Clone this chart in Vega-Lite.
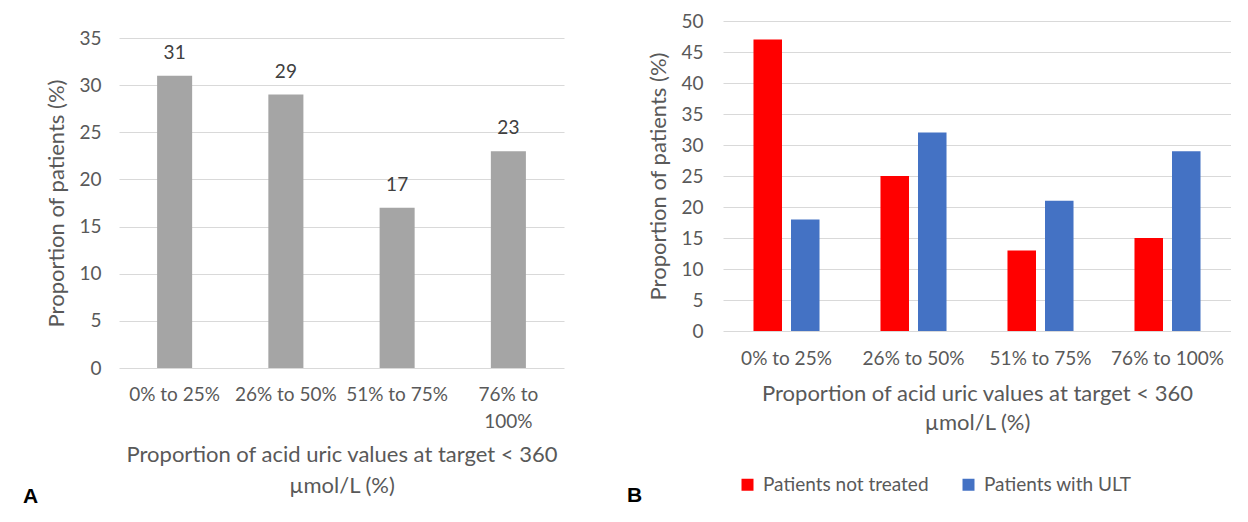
{
  "$schema": "https://vega.github.io/schema/vega-lite/v6.json",
  "background": "white",
  "padding": {"left": 22, "top": 0, "right": 0, "bottom": 0},
  "spacing": 62,
  "resolve": {"legend": {"color": "independent"}, "scale": {"color": "independent"}},
  "config": {
    "font": "Lato",
    "view": {"stroke": null},
    "axis": {
      "labelColor": "#595959",
      "titleColor": "#595959",
      "labelFont": "Lato",
      "titleFont": "Lato",
      "titleFontWeight": "normal",
      "labelFontSize": 19,
      "titleFontSize": 22,
      "gridColor": "#D9D9D9",
      "gridWidth": 1.2,
      "domain": false,
      "ticks": false
    },
    "title": {"font": "Liberation Sans", "fontSize": 21, "fontWeight": "bold", "color": "#000000", "orient": "bottom", "anchor": "start"}
  },
  "hconcat": [
    {
      "width": 445,
      "height": 368,
      "title": {"text": "A", "dx": -23, "dy": -14},
      "data": {
        "values": [
          {"range": "0% to 25%", "pct": 31},
          {"range": "26% to 50%", "pct": 29},
          {"range": "51% to 75%", "pct": 17},
          {"range": "76% to 100%", "pct": 23}
        ]
      },
      "encoding": {
        "x": {
          "field": "range",
          "type": "nominal",
          "sort": null,
          "scale": {"paddingInner": 0.685, "paddingOuter": 0.3425},
          "axis": {
            "labelAngle": 0,
            "labelPadding": 17,
            "labelLineHeight": 27,
            "labelExpr": "datum.value == '76% to 100%' ? ['76% to', '100%'] : datum.value",
            "title": ["Proportion of acid uric values at target < 360", "µmol/L (%)"],
            "titleLineHeight": 31,
            "titlePadding": 13
          }
        },
        "y": {
          "field": "pct",
          "type": "quantitative",
          "scale": {"domain": [0, 35], "range": [368, 38]},
          "axis": {
            "values": [0, 5, 10, 15, 20, 25, 30, 35],
            "title": "Proportion of patients (%)",
            "labelPadding": 18,
            "titlePadding": 10
          }
        }
      },
      "layer": [
        {"mark": {"type": "bar", "color": "#A5A5A5"}},
        {
          "mark": {"type": "text", "baseline": "middle", "dy": -23, "fontSize": 19, "color": "#404040", "font": "Lato"},
          "encoding": {"text": {"field": "pct", "type": "quantitative"}}
        }
      ]
    },
    {
      "width": 508,
      "height": 331,
      "title": {"text": "B", "dx": -21, "dy": -14},
      "data": {
        "values": [
          {"range": "0% to 25%", "group": "Patients not treated", "pct": 47},
          {"range": "0% to 25%", "group": "Patients with ULT", "pct": 18},
          {"range": "26% to 50%", "group": "Patients not treated", "pct": 25},
          {"range": "26% to 50%", "group": "Patients with ULT", "pct": 32},
          {"range": "51% to 75%", "group": "Patients not treated", "pct": 13},
          {"range": "51% to 75%", "group": "Patients with ULT", "pct": 21},
          {"range": "76% to 100%", "group": "Patients not treated", "pct": 15},
          {"range": "76% to 100%", "group": "Patients with ULT", "pct": 29}
        ]
      },
      "mark": {"type": "bar"},
      "encoding": {
        "x": {
          "field": "range",
          "type": "nominal",
          "sort": null,
          "scale": {"paddingInner": 0.48, "paddingOuter": 0.24},
          "axis": {
            "labelAngle": 0,
            "labelPadding": 18,
            "title": ["Proportion of acid uric values at target < 360", "µmol/L (%)"],
            "titleLineHeight": 29,
            "titlePadding": 15
          }
        },
        "xOffset": {
          "field": "group",
          "type": "nominal",
          "sort": ["Patients not treated", "Patients with ULT"],
          "scale": {"paddingInner": 0.24, "paddingOuter": 0}
        },
        "y": {
          "field": "pct",
          "type": "quantitative",
          "scale": {"domain": [0, 50], "range": [331, 21]},
          "axis": {
            "values": [0, 5, 10, 15, 20, 25, 30, 35, 40, 45, 50],
            "title": "Proportion of patients (%)",
            "labelPadding": 20,
            "titlePadding": 10
          }
        },
        "color": {
          "field": "group",
          "type": "nominal",
          "sort": ["Patients not treated", "Patients with ULT"],
          "scale": {"domain": ["Patients not treated", "Patients with ULT"], "range": ["#FF0000", "#4472C4"]},
          "legend": {
            "orient": "none",
            "legendX": 15,
            "legendY": 475,
            "direction": "horizontal",
            "title": null,
            "symbolType": "square",
            "symbolSize": 144,
            "symbolStrokeWidth": 0,
            "labelFontSize": 19,
            "labelColor": "#595959",
            "labelFont": "Lato",
            "labelOffset": 6,
            "labelLimit": 400,
            "columnPadding": 30
          }
        }
      }
    }
  ]
}
